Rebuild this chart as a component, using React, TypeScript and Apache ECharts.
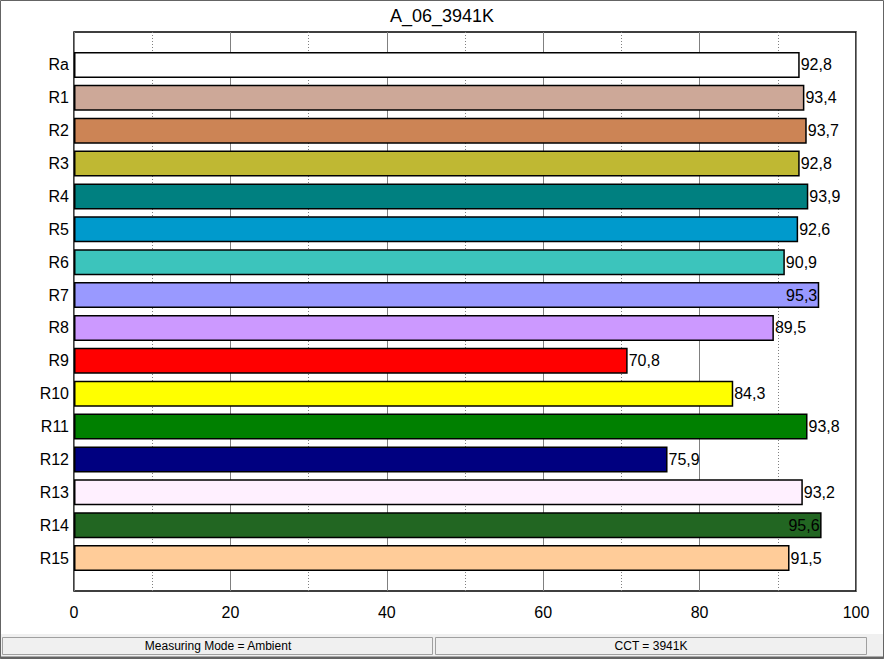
import React, { useEffect, useRef } from "react";
import * as echarts from "echarts";

const TITLE = "A_06_3941K";
const categories = ["Ra", "R1", "R2", "R3", "R4", "R5", "R6", "R7", "R8", "R9", "R10", "R11", "R12", "R13", "R14", "R15"];
const values = [92.8, 93.4, 93.7, 92.8, 93.9, 92.6, 90.9, 95.3, 89.5, 70.8, 84.3, 93.8, 75.9, 93.2, 95.6, 91.5];
const colors = [
  "#FFFFFF", "#CDA898", "#CC8455", "#BFB833", "#008080", "#009ACC", "#3CC4BC", "#9999FF",
  "#CC99FF", "#FF0000", "#FFFF00", "#008000", "#000080", "#FFF0FF", "#226622", "#FFCC99",
];
const xTicks = [0, 20, 40, 60, 80, 100];
const statusTexts = ["Measuring Mode = Ambient", "CCT = 3941K"];

const FONT = "'Liberation Sans', Arial, sans-serif";

export default function App() {
  const ref = useRef<HTMLDivElement>(null);
  useEffect(() => {
    document.body.style.margin = "0";
    if (!ref.current) return;
    const chart = echarts.init(ref.current, null, { renderer: "svg" });
    const axisData = ["", ...categories, ""];
    const seriesData: any[] = [null];
    values.forEach((v, i) => {
      const inside = v >= 95;
      seriesData.push({
        value: v,
        itemStyle: { color: colors[i] },
        label: { position: inside ? "insideRight" : "right", distance: inside ? 2 : 1 },
      });
    });
    seriesData.push(null);

    const option: any = {
      animation: false,
      backgroundColor: "#FFFFFF",
      textStyle: { fontFamily: FONT },
      title: {
        text: TITLE,
        left: "center",
        top: 2,
        textStyle: { fontFamily: FONT, fontSize: 18, fontWeight: "normal", color: "#000" },
      },
      grid: {
        left: 74,
        top: 32,
        width: 782,
        height: 559,
        show: true,
        borderColor: "#000",
        borderWidth: 1.5,
        backgroundColor: "#FFFFFF",
        containLabel: false,
      },
      xAxis: {
        type: "value",
        min: xTicks[0],
        max: xTicks[xTicks.length - 1],
        interval: xTicks[1] - xTicks[0],
        axisLine: { show: false },
        axisTick: { show: false },
        axisLabel: { fontFamily: FONT, fontSize: 16, color: "#000", margin: 13 },
        splitLine: { show: true, lineStyle: { color: "#808080", width: 1, type: "solid" } },
        minorTick: { show: false, splitNumber: 2 },
        minorSplitLine: { show: true, lineStyle: { color: "#808080", width: 1, type: [1, 2] } },
      },
      yAxis: {
        type: "category",
        data: axisData,
        inverse: true,
        boundaryGap: false,
        axisLine: { show: false },
        axisTick: { show: false },
        splitLine: { show: false },
        axisLabel: { fontFamily: FONT, fontSize: 16, color: "#000", margin: 5, interval: 0 },
      },
      series: [
        {
          type: "bar",
          data: seriesData,
          barWidth: 26,
          itemStyle: { borderColor: "#000", borderWidth: 1.5 },
          label: {
            show: true,
            fontFamily: FONT,
            fontSize: 16,
            color: "#000",
            formatter: (p: any) => String(p.value).replace(".", ","),
          },
          z: 3,
        },
      ],
      graphic: [
        {
          type: "rect",
          shape: { x: 0.5, y: 0.5, width: 883, height: 658 },
          style: { fill: "none", stroke: "#646464", lineWidth: 1 },
          z: 100,
        },
        {
          type: "rect",
          shape: { x: 1, y: 634, width: 882, height: 23 },
          style: { fill: "#F0F0F0" },
          z: 90,
        },
        {
          type: "rect",
          shape: { x: 2.5, y: 637.5, width: 430, height: 17 },
          style: { fill: "#F0F0F0", stroke: "#A0A0A0", lineWidth: 1 },
          z: 91,
        },
        {
          type: "rect",
          shape: { x: 435.5, y: 637.5, width: 431, height: 17 },
          style: { fill: "#F0F0F0", stroke: "#A0A0A0", lineWidth: 1 },
          z: 91,
        },
        {
          type: "text",
          x: 218,
          y: 646,
          style: { text: statusTexts[0], font: `12px ${FONT}`, fill: "#000", align: "center", verticalAlign: "middle" },
          z: 92,
        },
        {
          type: "text",
          x: 651,
          y: 646,
          style: { text: statusTexts[1], font: `12px ${FONT}`, fill: "#000", align: "center", verticalAlign: "middle" },
          z: 92,
        },
        {
          type: "line",
          shape: { x1: 0, y1: 657.5, x2: 884, y2: 657.5 },
          style: { stroke: "#646464", lineWidth: 2 },
          z: 100,
        },
      ],
    };
    chart.setOption(option);
    return () => chart.dispose();
  }, []);
  return <div ref={ref} style={{ position: "absolute", left: 0, top: 0, width: 884, height: 659 }} />;
}
